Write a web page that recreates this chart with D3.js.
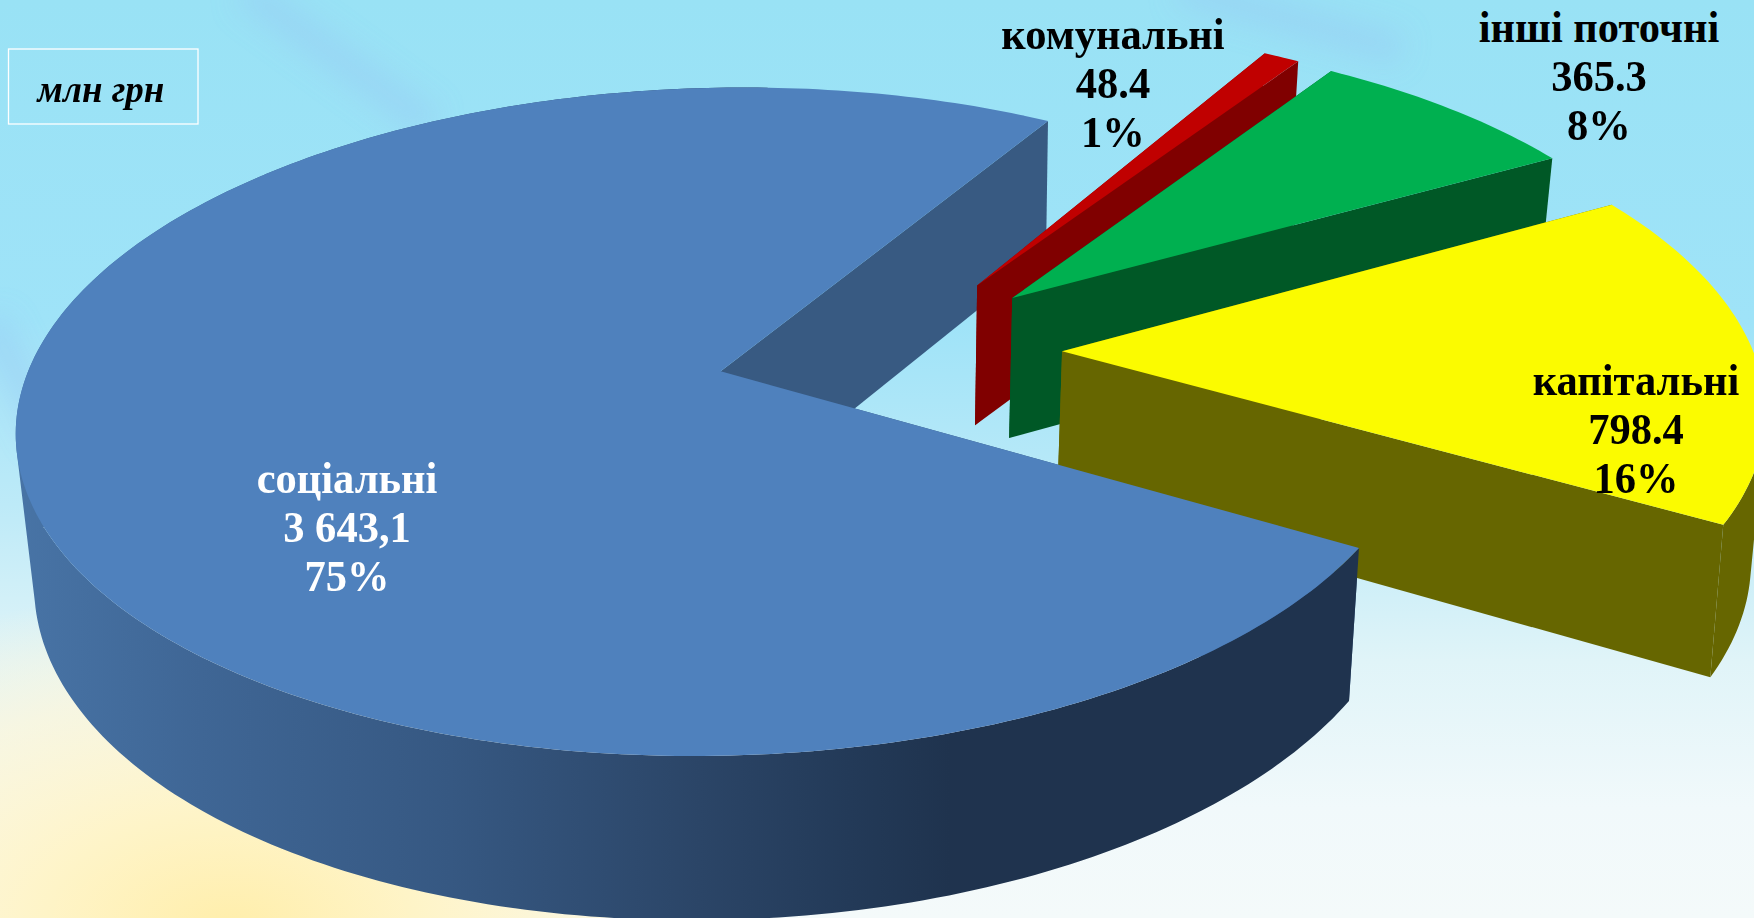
<!DOCTYPE html>
<html><head><meta charset="utf-8">
<script src="https://cdn.jsdelivr.net/npm/d3@7"></script>
<style>html,body{margin:0;padding:0;background:#bfeaf7;overflow:hidden}svg{display:block}</style>
</head><body><svg id="c" width="1754" height="918"></svg>
<script>
const categories=["соціальні","комунальні","інші поточні","капітальні"];
const values=[3643.1,48.4,365.3,798.4];
const valueLabels=["3 643,1","48.4","365.3","798.4"];
const percentLabels=["75%","1%","8%","16%"];
const unitLabel="млн грн";
const explode=[0,0.4635,0.485,0.4974];
const explodeDir=[0,293.95,301.46,322.94];
const topColors=["#4f81bd","#c00000","#00b050","#fbfb00"];
const wallColors=["#385a82","#800000","#005826","#666600"];
const labelColors=["#ffffff","#000000","#000000","#000000"];
const labelX=[347,1113,1599,1636];
const labelBase=[493,49,42,395];

const W=1754,H=918;
const svg=d3.select("#c");
const defs=svg.append("defs");
const bg=defs.append("linearGradient").attr("id","bg").attr("x1",0).attr("y1",0).attr("x2",0).attr("y2",1);
[[0,"#99e2f5"],[.35,"#9fe3f8"],[.55,"#bdeaf8"],[.72,"#e0f4f8"],[.88,"#f1f9fb"],[1,"#f4fafa"]].forEach(s=>bg.append("stop").attr("offset",s[0]).attr("stop-color",s[1]));
const yel=defs.append("radialGradient").attr("id","yel").attr("gradientUnits","userSpaceOnUse").attr("cx",230).attr("cy",930).attr("r",560).attr("gradientTransform","translate(230 930) scale(1 .62) translate(-230 -930)");
[[0,"#ffeeaa",1],[.35,"#fff4c6",.95],[.7,"#fdf6d8",.7],[1,"#fdf6d8",0]].forEach(s=>yel.append("stop").attr("offset",s[0]).attr("stop-color",s[1]).attr("stop-opacity",s[2]));
defs.append("filter").attr("id","blur").attr("x","-50%").attr("y","-50%").attr("width","200%").attr("height","200%").append("feGaussianBlur").attr("stdDeviation",14);
svg.append("rect").attr("width",W).attr("height",H).attr("fill","url(#bg)");
svg.append("rect").attr("width",W).attr("height",H).attr("fill","url(#yel)");
const streaks=[[[245,-10],[430,125]],[[1180,-12],[1400,50]],[[-10,320],[50,440]]];
svg.append("g").attr("filter","url(#blur)").selectAll("path").data(streaks).join("path")
 .attr("d",d=>d3.line()(d)).attr("stroke","#97c8f4").attr("stroke-width",30).attr("fill","none").attr("opacity",.45);

const sg=defs.append("linearGradient").attr("id","side").attr("gradientUnits","userSpaceOnUse").attr("x1",13).attr("y1",0).attr("x2",950).attr("y2",0);
[[0,"#4874a6"],[.2,"#3f6695"],[.467,"#365882"],[.733,"#2b4567"],[.893,"#233a58"],[1,"#1f334e"]].forEach(s=>sg.append("stop").attr("offset",s[0]).attr("stop-color",s[1]));

function homography(src,dst){
 const A=[];
 src.forEach((s,i)=>{const [x,y]=s,[u,v]=dst[i];
  A.push([x,y,1,0,0,0,-u*x,-u*y,u]);A.push([0,0,0,x,y,1,-v*x,-v*y,v]);});
 for(let c=0;c<8;c++){let p=c;for(let r=c+1;r<8;r++)if(Math.abs(A[r][c])>Math.abs(A[p][c]))p=r;
  [A[c],A[p]]=[A[p],A[c]];
  for(let r=0;r<8;r++)if(r!==c){const f=A[r][c]/A[c][c];for(let k=c;k<9;k++)A[r][k]-=f*A[c][k];}}
 const h=A.map((r,i)=>r[8]/r[i]);
 return ([x,y])=>{const w=h[6]*x+h[7]*y+1;return [(h[0]*x+h[1]*y+h[2])/w,(h[3]*x+h[4]*y+h[5])/w];};
}
const pie=d3.pie().sort(null).value(d=>d)(values);
const aEnd=pie[0].endAngle;
const disc=a=>[Math.sin(a),-Math.cos(a)];
const anchors=[0,aEnd-Math.PI,Math.PI,aEnd].map(disc);
const topRim=[[1359,548],[296,696],[174,220],[1048,121]];
const botRim=[[1349,701],[298,855],[196,357],[1046,255]];
const topP=homography(anchors,topRim), botP=homography(anchors,botRim);
const line=d3.line();

const slices=pie.map((p,i)=>{
 const o=disc(explodeDir[i]*Math.PI/180);
 const off=[o[0]*explode[i],o[1]*explode[i]];
 const pt=(a,r)=>{const d=disc(a);return [off[0]+d[0]*r,off[1]+d[1]*r];};
 const as=d3.range(0,1.0001,1/Math.max(4,Math.round((p.endAngle-p.startAngle)*60))).map(t=>p.startAngle+t*(p.endAngle-p.startAngle));
 return {i,p,pt,as};
});
function radialWall(s,a){const O=s.pt(a,0),E=s.pt(a,1);return line([topP(O),topP(E),botP(E),botP(O)])+"Z";}
function drawRadial(g,s){g.selectAll(null).data([s.p.startAngle,s.p.endAngle]).join("path").attr("d",a=>radialWall(s,a)).attr("fill",wallColors[s.i]);}
// outer rim wall over the visible fraction [from,to] of the slice's arc
function drawOuter(g,s,fill,from,to){
 const n=s.as.length-1;
 const segs=d3.pairs(s.as.filter((a,k)=>k/n>=from&&k/n<=to));
 const quads=segs.map(([a,b])=>{
  const q=[topP(s.pt(a,1)),topP(s.pt(b,1)),botP(s.pt(b,1)),botP(s.pt(a,1))];
  return d3.polygonArea(q)<0?q.reverse():q;});
 g.append("path").attr("d",quads.map(q=>line(q)+"Z").join("")).attr("fill",fill).attr("fill-rule","nonzero");
}
function drawTop(g,s){
 const pts=[topP(s.pt(s.p.startAngle,0))].concat(s.as.map(a=>topP(s.pt(a,1))));
 g.append("path").attr("d",line(pts)+"Z").attr("fill",topColors[s.i]);
}
const chart=svg.append("g");
drawRadial(chart.append("g"),slices[0]);
[1,2,3].forEach(i=>{const g=chart.append("g").attr("data-name",categories[i]);
 drawRadial(g,slices[i]);
 if(i===3)drawOuter(g,slices[i],wallColors[i],.7,1);
 drawTop(g,slices[i]);});
const mg=chart.append("g").attr("data-name",categories[0]);
drawOuter(mg,slices[0],"url(#side)",0,.9);drawTop(mg,slices[0]);

const lab=svg.append("g").attr("font-family","'Liberation Serif','Times New Roman',serif").attr("font-weight","bold").attr("font-size",45).attr("text-anchor","middle");
categories.forEach((c,i)=>{
 const g=lab.append("g").attr("fill",labelColors[i]);
 [c,valueLabels[i],percentLabels[i]].forEach((t,k)=>g.append("text").attr("transform",`translate(${labelX[i]},${labelBase[i]+k*49}) scale(.945,1)`).text(t));
});
svg.append("rect").attr("x",8.5).attr("y",49).attr("width",189.5).attr("height",75).attr("fill","none").attr("stroke","#fff").attr("stroke-width",1.3);
svg.append("text").attr("x",101).attr("y",102).attr("text-anchor","middle").attr("font-family","'Liberation Serif',serif").attr("font-weight","bold").attr("font-style","italic").attr("font-size",37).text(unitLabel);
</script></body></html>
